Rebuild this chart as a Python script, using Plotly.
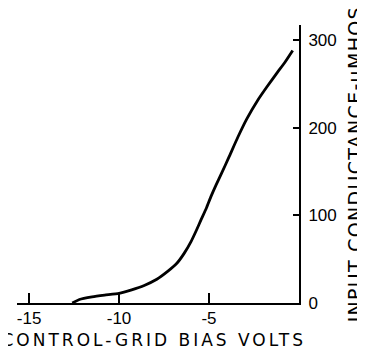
import plotly.graph_objects as go

# Data
bias_volts = [-12.6, -12.2, -11.5, -10.8, -10.0, -9.3, -8.6, -7.9, -7.3, -6.8, -6.4, -6.0,
              -5.7, -5.44, -5.15, -4.9, -4.6, -4.3, -3.9, -3.4, -2.9, -2.3, -1.8, -1.2, -0.8, -0.35]
conductance = [0, 4, 7, 9, 11, 15, 20, 27, 36, 45, 56, 70,
               83, 95, 108, 121, 135, 148, 166, 189, 210, 231, 246, 263, 274, 288]

x_tickvals = [-15, -10, -5]
x_ticktext = ["-15", "-10", "-5"]
y_tickvals = [0, 100, 200, 300]
y_ticktext = ["0", "100", "200", "300"]

x_title = "CONTROL-GRID BIAS VOLTS"
y_title = "INPUT CONDUCTANCE-μMHOS"

tick_font = dict(family="Liberation Sans", size=17, color="black")

fig = go.Figure()
fig.add_trace(go.Scatter(
    x=bias_volts, y=conductance, mode="lines",
    line=dict(color="black", width=2.8, shape="spline", smoothing=0.5),
    showlegend=False, hoverinfo="skip",
))

# The page body adds an 8px margin, so the figure is 8px smaller than the window.
fig.update_layout(
    width=357, height=342,
    margin=dict(l=9, r=66, t=17, b=47, pad=0),
    paper_bgcolor="white", plot_bgcolor="white",
    font=dict(family="DejaVu Sans", color="black", size=16),
    xaxis=dict(
        range=[-15.67, 0], showgrid=False, zeroline=False, automargin=False,
        showline=True, linecolor="black", linewidth=2,
        ticks="inside", ticklen=10, tickwidth=1.6, tickcolor="black",
        tickvals=x_tickvals, ticktext=x_ticktext,
        tickfont=tick_font, ticklabelstandoff=-1,
    ),
    yaxis=dict(
        range=[0, 317], side="right", showgrid=False, zeroline=False, automargin=False,
        showline=True, linecolor="black", linewidth=2,
        ticks="inside", ticklen=6, tickwidth=1.6, tickcolor="black",
        tickvals=y_tickvals, ticktext=y_ticktext,
        tickfont=tick_font, ticklabelstandoff=4,
    ),
    annotations=[
        dict(text=x_title, xref="paper", yref="paper", x=0.487, y=-0.133,
             xanchor="center", yanchor="middle", showarrow=False,
             font=dict(family="DejaVu Sans", size=17, color="black")),
        dict(text=y_title, xref="paper", yref="paper", x=1.2, y=0.5,
             xanchor="center", yanchor="middle", textangle=-90, showarrow=False,
             font=dict(family="DejaVu Sans", size=19, color="black")),
    ],
)

spacing_js = """
var gd = document.getElementById('{plot_id}');
function spaceTitles() {
  gd.querySelectorAll('.annotation-text').forEach(function (t) {
    t.style.letterSpacing = (t.textContent.indexOf('INPUT') === 0) ? '1.3px' : '3px';
  });
}
spaceTitles();
gd.on('plotly_afterplot', spaceTitles);
"""

fig.write_html("out.html", post_script=spacing_js)
